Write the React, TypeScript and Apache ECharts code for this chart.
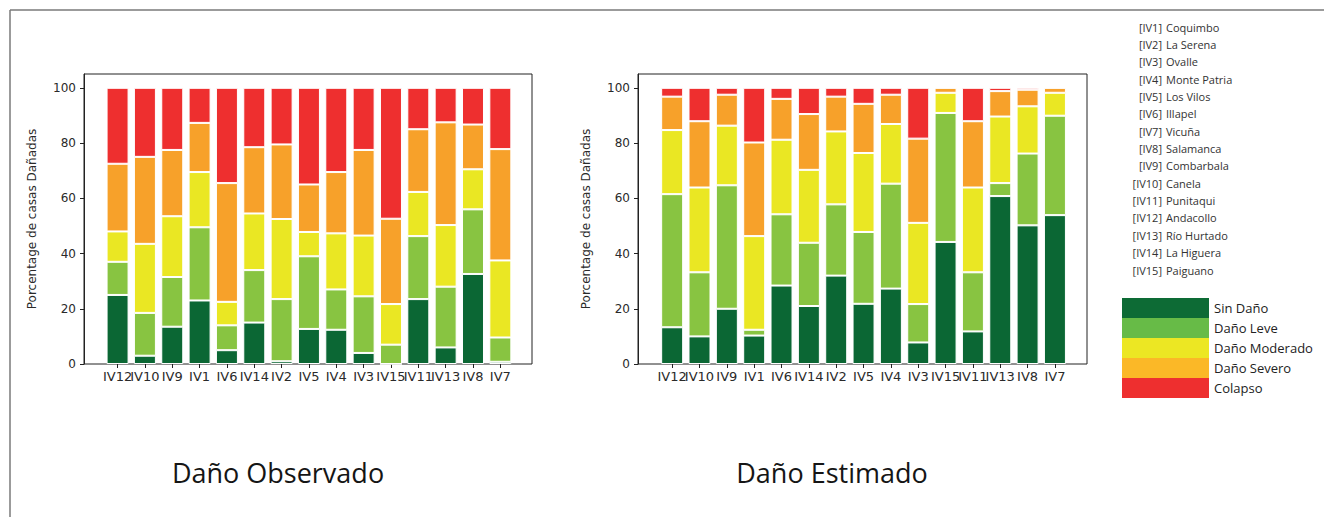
import React, { useEffect, useRef } from "react";
import * as echarts from "echarts";

const categories = ["IV12", "IV10", "IV9", "IV1", "IV6", "IV14", "IV2", "IV5", "IV4", "IV3", "IV15", "IV11", "IV13", "IV8", "IV7"];
const damageLevels = ["Sin Daño", "Daño Leve", "Daño Moderado", "Daño Severo", "Colapso"];
const barColors = ["#0b6734", "#88c441", "#eae723", "#f7a12a", "#ee2f2f"];
const legendColors = ["#0d6b35", "#67bb47", "#ece723", "#fbb827", "#ee2f2f"];

// Daño Observado (%)
const obsSinDano = [25, 3, 13.5, 23, 5, 15, 1, 12.7, 12.4, 4, 0, 23.5, 6, 32.6, 0.8];
const obsLeve = [12, 15.5, 18, 26.5, 9, 19, 22.5, 26.3, 14.6, 20.5, 7, 22.8, 22, 23.4, 8.8];
const obsModerado = [11, 25, 22, 20, 8.5, 20.5, 29, 8.8, 20.3, 22, 14.7, 16, 22.3, 14.5, 27.9];
const obsSevero = [24.5, 31.5, 24, 17.8, 43, 24, 27, 17.2, 22.2, 31, 30.9, 22.7, 37.2, 16.2, 40.3];
const obsColapso = [27.5, 25, 22.5, 12.7, 34.5, 21.5, 20.5, 35, 30.5, 22.5, 47.4, 15, 12.5, 13.3, 22.2];

// Daño Estimado (%)
const estSinDano = [13.3, 10, 20, 10.3, 28.4, 21, 32, 21.8, 27.3, 7.8, 44.2, 11.8, 60.8, 50.2, 53.9];
const estLeve = [48.2, 23.2, 44.7, 2.1, 25.8, 22.9, 25.8, 26, 38, 13.9, 46.7, 21.4, 4.7, 26, 36];
const estModerado = [23.2, 30.7, 21.6, 33.9, 27, 26.4, 26.4, 28.6, 21.6, 29.4, 7.3, 30.7, 24.1, 17.1, 8.3];
const estSevero = [12.1, 24, 11.2, 33.9, 14.8, 20.2, 12.6, 17.8, 10.6, 30.5, 1.8, 24, 9.2, 6, 1.8];
const estColapso = [3.2, 12.1, 2.5, 19.8, 4, 9.5, 3.2, 5.8, 2.5, 18.4, 0, 12.1, 1.2, 0.7, 0];

const yTicks = [0, 20, 40, 60, 80, 100];

const codes = ["[IV1]", "[IV2]", "[IV3]", "[IV4]", "[IV5]", "[IV6]", "[IV7]", "[IV8]", "[IV9]", "[IV10]", "[IV11]", "[IV12]", "[IV13]", "[IV14]", "[IV15]"];
const municipios = ["Coquimbo", "La Serena", "Ovalle", "Monte Patria", "Los Vilos", "Illapel", "Vicuña", "Salamanca", "Combarbala", "Canela", "Punitaqui", "Andacollo", "Río Hurtado", "La Higuera", "Paiguano"];

const chartTitles = ["Daño Observado", "Daño Estimado"];
const yAxisName = "Porcentage de casas Dañadas";

const obsSeries = [obsSinDano, obsLeve, obsModerado, obsSevero, obsColapso];
const estSeries = [estSinDano, estLeve, estModerado, estSevero, estColapso];

export default function App() {
  const ref = useRef<HTMLDivElement>(null);

  useEffect(() => {
    if (!ref.current) return;
    const chart = echarts.init(ref.current, null, { renderer: "svg" });

    const tickFont = "DejaVu Sans";
    const frameGrids = [
      { left: 84, top: 74, width: 448, height: 290 },
      { left: 638, top: 74, width: 449, height: 290 },
    ];
    const barGrids = [
      { left: 103.9, top: 74, width: 410.1, height: 290 },
      { left: 658.5, top: 74, width: 410.1, height: 290 },
    ];

    const grid: any[] = [];
    const xAxis: any[] = [];
    const yAxis: any[] = [];
    const series: any[] = [];

    [0, 1].forEach((c) => {
      const fg = frameGrids[c];
      const bg = barGrids[c];
      grid.push({ ...fg, show: true, borderColor: "#222", borderWidth: 1, backgroundColor: "transparent", containLabel: false });
      grid.push({ ...bg, show: false, containLabel: false });
      const gi = c * 2;
      xAxis.push({ type: "value", gridIndex: gi, show: false, min: 0, max: 1 });
      xAxis.push({
        type: "category",
        gridIndex: gi + 1,
        data: categories,
        axisLine: { show: false },
        axisTick: { show: true, alignWithLabel: true, length: 4, lineStyle: { color: "#222", width: 1 } },
        axisLabel: { interval: 0, margin: 6, fontFamily: tickFont, fontSize: 13, color: "#2a2a2a", hideOverlap: false },
        splitLine: { show: false },
      });
      yAxis.push({
        type: "value",
        gridIndex: gi,
        min: 0,
        max: 105,
        interval: 20,
        name: yAxisName,
        nameLocation: "middle",
        nameGap: 46,
        nameTextStyle: { fontFamily: tickFont, fontSize: 12, color: "#2a2a2a" },
        axisLine: { show: true, lineStyle: { color: "#222", width: 1 } },
        axisTick: { show: true, length: 4, lineStyle: { color: "#222" } },
        axisLabel: {
          margin: 8,
          fontFamily: tickFont,
          fontSize: 12,
          color: "#2a2a2a",
          showMaxLabel: false,
          formatter: (v: number) => (yTicks.indexOf(v) >= 0 ? String(v) : ""),
        },
        splitLine: { show: false },
      });
      yAxis.push({ type: "value", gridIndex: gi + 1, min: 0, max: 105, show: false });

      const data = c === 0 ? obsSeries : estSeries;
      damageLevels.forEach((lvl, k) => {
        series.push({
          type: "bar",
          name: lvl,
          xAxisIndex: gi + 1,
          yAxisIndex: gi + 1,
          stack: "stack" + c,
          barWidth: 22,
          data: data[k],
          itemStyle: { color: barColors[k], borderColor: "#ffffff", borderWidth: 1 },
          emphasis: { disabled: true },
        });
      });
    });

    const graphic: any[] = [];
    // outer frame lines
    graphic.push({ type: "line", shape: { x1: 10, y1: 10, x2: 1324, y2: 10 }, style: { stroke: "#7a7a7a", lineWidth: 1.5 } });
    graphic.push({ type: "line", shape: { x1: 10, y1: 10, x2: 10, y2: 517 }, style: { stroke: "#7a7a7a", lineWidth: 1.5 } });
    // titles
    [278, 832].forEach((cx, i) => {
      graphic.push({
        type: "text",
        x: cx,
        y: 472,
        style: { text: chartTitles[i], font: "27px 'Open Sans'", fill: "#151515", textAlign: "center", textVerticalAlign: "middle" },
      });
    });
    // municipality list
    codes.forEach((cd, i) => {
      const y = 27 + i * 17.36;
      graphic.push({
        type: "text",
        x: 1162,
        y,
        style: { text: cd, font: "11px 'Open Sans'", fill: "#333", textAlign: "right", textVerticalAlign: "middle" },
      });
      graphic.push({
        type: "text",
        x: 1166,
        y,
        style: { text: municipios[i], font: "11px 'Open Sans'", fill: "#333", textAlign: "left", textVerticalAlign: "middle" },
      });
    });

    chart.setOption({
      animation: false,
      backgroundColor: "#ffffff",
      grid,
      xAxis,
      yAxis,
      series,
      legend: {
        orient: "vertical",
        left: 1122,
        top: 298,
        padding: 0,
        itemWidth: 87,
        itemHeight: 20,
        itemGap: 0,
        icon: "rect",
        selectedMode: false,
        textStyle: { fontFamily: "Open Sans", fontSize: 13, color: "#222" },
        itemStyle: { borderWidth: 0 },
        data: damageLevels.map((n, k) => ({ name: n, itemStyle: { color: legendColors[k], borderWidth: 0 } })),
      },
      graphic,
    });

    return () => chart.dispose();
  }, []);

  return <div ref={ref} style={{ position: "absolute", left: 0, top: 0, width: 1324, height: 517 }} />;
}
